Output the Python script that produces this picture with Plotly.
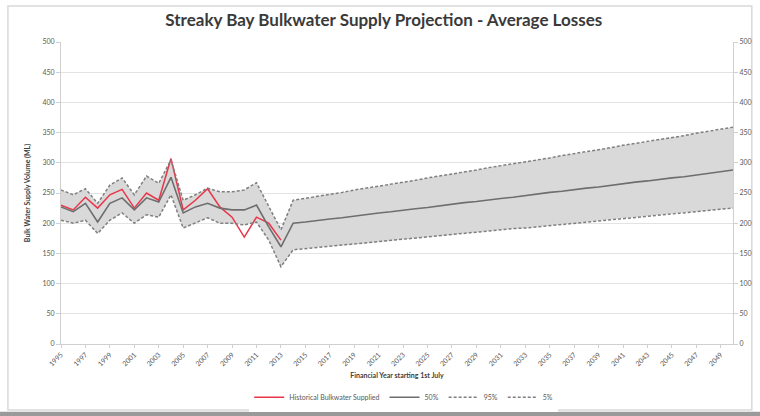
import plotly.graph_objects as go

# financial years (starting 1st July)
years = list(range(1995, 2051))

hist_years = list(range(1995, 2014))
historical = [230, 222, 243, 225, 247, 256, 225, 250, 238, 307,
              222, 238, 257, 227, 210, 177, 210, 200, 172]

p50 = [227, 219, 233, 202, 233, 242, 222, 242, 235, 276,
       217, 227, 233, 225, 222, 222, 230, 194, 161,
       200, 202, 205, 207, 209, 212, 214, 217, 219, 222, 224, 226, 229,
       231, 234, 236, 239, 241, 243, 246, 248, 251, 253, 256, 258, 260,
       263, 265, 268, 270, 273, 275, 277, 280, 282, 285, 288]
p95 = [255, 247, 257, 233, 263, 275, 247, 278, 266, 305,
       238, 247, 258, 252, 252, 255, 267, 227, 189,
       238, 241, 245, 248, 251, 255, 258, 261, 265, 268, 271, 275, 278,
       282, 285, 288, 292, 295, 298, 302, 305, 308, 312, 315, 318, 322,
       325, 329, 332, 335, 339, 342, 345, 349, 352, 355, 359]
p5 = [205, 200, 205, 183, 205, 217, 200, 214, 210, 247,
      192, 200, 209, 200, 200, 197, 202, 172, 128,
      156, 158, 160, 162, 163, 165, 167, 169, 171, 173, 175, 177, 179,
      181, 183, 185, 187, 189, 191, 192, 194, 196, 198, 200, 202, 204,
      206, 208, 210, 212, 214, 216, 218, 219, 221, 223, 225]

y_ticks = list(range(0, 501, 50))

FONT = "Lato, 'Open Sans', sans-serif"
tick_font = dict(family=FONT, size=7, color="#595959")

fig = go.Figure()

# shaded band between 5% and 95%
fig.add_trace(go.Scatter(
    x=years + years[::-1], y=p95 + p5[::-1],
    fill="toself", fillcolor="#d9d9d9", mode="none",
    showlegend=False, hoverinfo="skip",
))
fig.add_trace(go.Scatter(
    x=hist_years, y=historical, mode="lines", name="Historical Bulkwater Supplied",
    line=dict(color="#e8374a", width=1.5),
))
fig.add_trace(go.Scatter(
    x=years, y=p50, mode="lines", name="50%",
    line=dict(color="#6e6e6e", width=1.6),
))
fig.add_trace(go.Scatter(
    x=years, y=p95, mode="lines", name="95%",
    line=dict(color="#7f7f7f", width=1.5, dash="3px,2px"),
))
fig.add_trace(go.Scatter(
    x=years, y=p5, mode="lines", name="5%",
    line=dict(color="#7f7f7f", width=1.5, dash="3px,2px"),
))
# dummy trace so the right axis is drawn
fig.add_trace(go.Scatter(x=[1995], y=[0], yaxis="y2", mode="markers",
                         marker=dict(opacity=0), showlegend=False,
                         hoverinfo="skip"))

fig.update_layout(
    width=760, height=416,
    margin=dict(l=61, r=27, t=42, b=72, autoexpand=False),
    paper_bgcolor="white", plot_bgcolor="white",
    font=dict(family=FONT, color="#404040"),
    title=dict(
        text="<b>Streaky Bay Bulkwater Supply Projection - Average Losses</b>",
        x=0.505, xanchor="center", y=0.952, yanchor="middle",
        font=dict(family=FONT, size=17, color="#3a3a3a"),
    ),
    xaxis=dict(
        range=[1995, 2050], tick0=1995, dtick=2, tickangle=-45,
        tickfont=tick_font, showgrid=False, zeroline=False, automargin=False,
        showline=True, linecolor="#d0d0d0", ticks="outside",
        ticklen=3, tickcolor="#d0d0d0",
        title=dict(text="<b>Financial Year starting 1st July</b>",
                   font=dict(family=FONT, size=7, color="#404040"), standoff=6),
    ),
    yaxis=dict(
        range=[0, 500], tickvals=y_ticks, tickfont=tick_font, automargin=False,
        showgrid=True, gridcolor="#e3e3e3", zeroline=False,
        showline=True, linecolor="#d0d0d0", ticks="outside",
        ticklen=4, tickcolor="#d0d0d0",
        title=dict(text="<b>Bulk Water Supply Volume (ML)</b>",
                   font=dict(family=FONT, size=7, color="#404040"), standoff=10),
    ),
    yaxis2=dict(
        range=[0, 500], tickvals=y_ticks, tickfont=tick_font, automargin=False,
        overlaying="y", side="right", showgrid=False, zeroline=False,
        showline=True, linecolor="#d0d0d0", ticks="outside",
        ticklen=4, tickcolor="#d0d0d0",
    ),
    legend=dict(
        orientation="h", x=0.51, xanchor="center",
        yref="container", y=0.045, yanchor="middle",
        font=dict(family=FONT, size=7, color="#595959"),
        itemwidth=30,
    ),
    shapes=[
        dict(type="rect", xref="paper", yref="paper", x0=-0.079, x1=1.028,
             y0=-0.2185, y1=1.119, line=dict(color="#d9d9d9", width=1.5),
             layer="below"),
        dict(type="rect", xref="paper", yref="paper", x0=-0.1, x1=1.05,
             y0=-0.24, y1=-0.224, fillcolor="#9a9a9a", line=dict(width=0)),
    ],
)

fig.write_html(
    "out.html",
    config={"displayModeBar": False},
    post_script="document.body.style.margin='0';document.body.style.overflow='hidden';",
)
